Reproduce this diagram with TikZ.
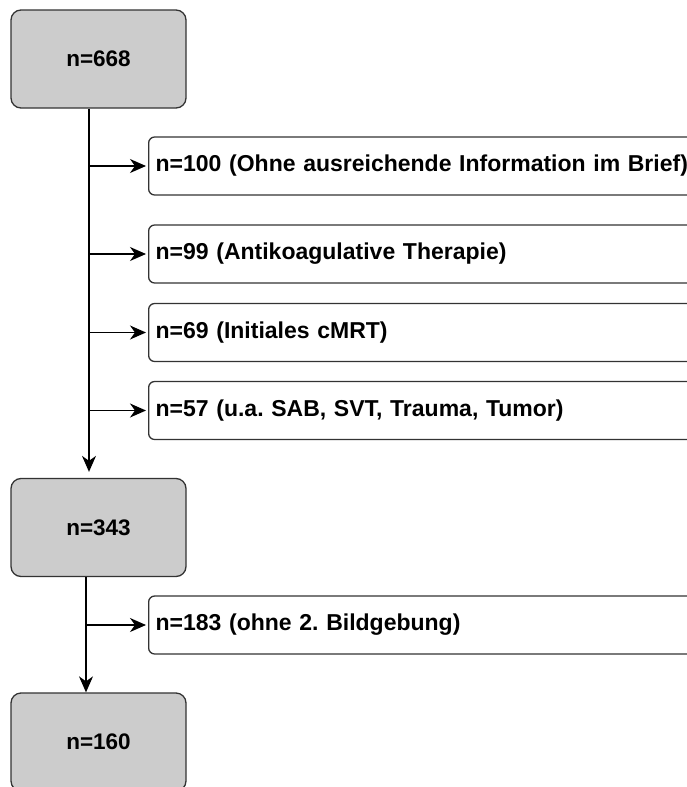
\documentclass[tikz,border=0pt]{standalone}
\usepackage{fontspec}
\setmainfont{Liberation Sans}
\usetikzlibrary{arrows.meta}
\usetikzlibrary{calc}
\frenchspacing
\tikzset{countBox/.style={draw=black!80, line width=1.3pt, rounded corners=10pt, fill=gray!40, minimum width=175pt, minimum height=98pt, font=\fontsize{22.5}{26}\selectfont\bfseries}}
\tikzset{exclBox/.style={draw=black!80, line width=1.3pt, rounded corners=6pt, fill=white, anchor=west, minimum width=570pt, minimum height=58pt, text width=556pt, inner xsep=5pt, align=left, font=\fontsize{23}{26}\selectfont\bfseries}}
\tikzset{flowArrow/.style={line width=1.3pt, -{Stealth[length=16pt, width=14pt, inset=5pt]}}}

\begin{document}
\begin{tikzpicture}[x=1pt, y=-1pt]

\useasboundingbox (0,0) rectangle (687,787);
\clip (0,0) rectangle (687,787);

\node[countBox] (n668) at (98.5, 59) {n=668};
\node[countBox] (n343) at (98.5, 527.5) {n=343};
\node[countBox] (n160) at (98.5, 742) {n=160};

\node[exclBox] (ex100) at (148, 166) {n=100 (Ohne ausreichende Information im Brief)};
\node[exclBox] (ex99) at (148, 254) {n=99 (Antikoagulative Therapie)};
\node[exclBox] (ex69) at (148, 332.5) {n=69 (Initiales cMRT)};
\node[exclBox] (ex57) at (148, 410.5) {n=57 (u.a. SAB, SVT, Trauma, Tumor)};
\node[exclBox] (ex183) at (148, 625) {n=183 (ohne 2. Bildgebung)};

% first step
\coordinate (trunkA) at ($(n668.south)+(-9.5,0)$);
\draw[flowArrow, shorten >=6pt] (trunkA) to (trunkA |- n343.north);
\draw[flowArrow, shorten >=2pt] (trunkA |- ex100.west) to (ex100.west);
\draw[flowArrow, shorten >=2pt] (trunkA |- ex99.west) to (ex99.west);
\draw[flowArrow, shorten >=2pt] (trunkA |- ex69.west) to (ex69.west);
\draw[flowArrow, shorten >=2pt] (trunkA |- ex57.west) to (ex57.west);

% second step
\coordinate (trunkB) at ($(n343.south)+(-12.5,0)$);
\draw[flowArrow] (trunkB) to (trunkB |- n160.north);
\draw[flowArrow, shorten >=2pt] (trunkB |- ex183.west) to (ex183.west);

\end{tikzpicture}
\end{document}
